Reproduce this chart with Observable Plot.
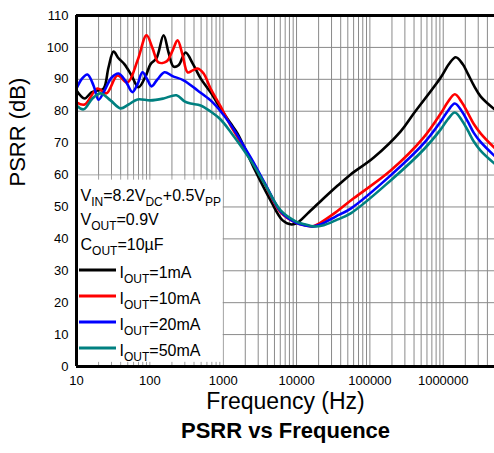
<!DOCTYPE html>
<html><head><meta charset="utf-8">
<script src="https://cdn.jsdelivr.net/npm/d3@7"></script>
<script src="https://cdn.jsdelivr.net/npm/@observablehq/plot@0.6"></script>
<style>
html,body{margin:0;padding:0;background:#fff;}
#chart{width:494px;height:453px;}
</style></head><body><div id="chart"></div>
<script>
// ---------- data ----------
const xTicks = [10, 100, 1000, 10000, 100000, 1000000];
const yTicks = [0, 10, 20, 30, 40, 50, 60, 70, 80, 90, 100, 110];
const seriesNames = ["1mA", "10mA", "20mA", "50mA"];
const seriesLabels = ["I_{OUT}=1mA", "I_{OUT}=10mA", "I_{OUT}=20mA", "I_{OUT}=50mA"];
const conditionLines = ["V_{IN}=8.2V_{DC}+0.5V_{PP}", "V_{OUT}=0.9V", "C_{OUT}=10µF"];
const xLabel = "Frequency (Hz)";
const yLabel = "PSRR (dB)";
const title = "PSRR vs Frequence";

const freq1mA = [10,12.9,16,19.3,23.4,27.3,32,37.4,45.2,56.3,70.1,87.3,102,123,154,180,210,246,307,383,492,673,922,1262,1572,2600,4436,6460,8570,10350,14200,22700,36400,54700,113000,263000,396000,925000,1190000,1480000,1850000,2160000,2610000,3250000,5000000];
const psrr1mA = [86.5,84.0,85.9,86.5,87.1,93.7,98.7,96.6,94.7,91.2,87.5,90.9,94.7,96.6,103.8,98.4,94.0,94.4,98.4,95.0,90.3,85.9,80.9,76.2,73.0,62.4,52.0,45.8,44.5,45.1,48.0,52.4,56.7,60.2,65.5,73.7,79.3,90.6,94.7,96.9,94.7,91.8,88.1,84.6,80.6];

const freq10mA = [10,12.9,19.3,25.6,36.2,49.6,67.9,90.1,109,131,169,204,239,280,327,383,448,541,673,922,1262,2366,3787,6070,9730,13300,16600,21300,34100,60100,192000,542000,925000,1150000,1440000,1790000,2160000,2610000,3250000,5000000];
const psrr10mA = [82.8,82.1,87.1,85.6,91.2,89.0,95.9,103.8,99.7,95.3,95.6,99.0,102.2,97.5,92.2,92.8,93.4,91.8,87.1,81.5,75.5,65.2,56.7,48.3,45.1,44.2,43.9,45.1,48.3,52.7,61.4,71.8,79.3,82.8,85.3,82.8,79.5,76.0,73.0,68.5];

const freq20mA = [10,11.7,14.1,17.1,20.0,24.1,30,37.4,46.6,57.8,67.9,79.3,93,105.5,127,159,204,288,448,673,922,1262,2366,3787,6070,9730,13300,16600,21300,34100,54700,192000,542000,925000,1150000,1440000,1790000,2160000,2610000,3250000,5000000];
const psrr20mA = [87.1,90.0,91.5,88.0,83.6,86.5,90.5,91.8,89.5,86.0,88.5,92.2,89.8,87.8,90.0,92.2,91.0,89.7,86.5,83.4,80.0,75.8,65.5,57.0,48.6,45.1,44.2,43.9,44.5,47.0,49.5,59.9,69.9,76.8,80.0,82.4,80.0,76.8,73.2,70.3,66.0];

const freq50mA = [10,12.5,16.5,21.2,29.1,39.8,51.2,67.9,102,154,231,297,359,492,673,922,1262,2366,3787,6070,9730,13300,17100,22700,34100,54700,192000,542000,925000,1150000,1440000,1790000,2160000,2610000,3250000,5000000];
const psrr50mA = [81.8,80.6,84.0,85.6,83.4,80.9,82.1,83.7,83.4,84.0,85.0,83.1,82.4,81.8,79.9,77.4,73.5,64.6,56.7,48.9,45.5,44.5,43.9,44.2,45.8,48.0,58.3,68.0,74.3,77.4,79.6,77.2,74.0,70.5,67.6,63.6];

// ---------- styling / layout ----------
const seriesColors = ["#000000", "#ff0000", "#0000ff", "#008080"];
const FONT = "'Liberation Sans', Arial, Helvetica, sans-serif";
const W = 494, H = 453, ML = 76, MR = 0, MT = 15, MB = 87;
const conditionBaselines = [200, 224, 249];
const legendBaselines = [277, 303, 329, 355];

const freqs = [freq1mA, freq10mA, freq20mA, freq50mA];
const psrrs = [psrr1mA, psrr10mA, psrr20mA, psrr50mA];
const rows = [];
seriesNames.forEach((s, i) => freqs[i].forEach((f, j) => rows.push({series: s, f, db: psrrs[i][j]})));

// grid positions (log minor grid)
const gridX = [];
for (let e = 1; e <= 6; e++) for (let k = 1; k <= 9; k++) { const v = k * 10 ** e; if (v <= 5e6) gridX.push(v); }
const legendBox = [{x1: 10, x2: 1000, y1: 0, y2: 60}];
const innerTicks = gridX.filter(v => v > 10 && v < 1000);

const textMarks = [];
conditionLines.forEach((t, i) => textMarks.push(Plot.text([t], {
  frameAnchor: "top-left", dx: 4, dy: conditionBaselines[i] - MT, lineAnchor: "bottom",
  textAnchor: "start", fontSize: 16, fill: "#000"
})));
seriesLabels.forEach((t, i) => textMarks.push(Plot.text([t], {
  frameAnchor: "top-left", dx: 43, dy: legendBaselines[i] - MT, lineAnchor: "bottom",
  textAnchor: "start", fontSize: 16, fill: "#000"
})));

const plot = Plot.plot({
  width: W, height: H, marginLeft: ML, marginRight: MR, marginTop: MT, marginBottom: MB,
  style: {fontFamily: FONT, fontSize: "13px", color: "#000", background: "#fff"},
  x: {type: "log", domain: [10, 5e6], ticks: xTicks, tickFormat: d => String(d), tickSize: 0, tickPadding: 9, label: null},
  y: {domain: [0, 110], ticks: yTicks, tickSize: 0, tickPadding: 8, label: null},
  color: {domain: seriesNames, range: seriesColors},
  marks: [
    Plot.ruleX(gridX, {stroke: "#8a8a8a", strokeWidth: 1}),
    Plot.ruleY(yTicks, {stroke: "#8a8a8a", strokeWidth: 1}),
    Plot.rect(legendBox, {x1: "x1", x2: "x2", y1: "y1", y2: "y2", fill: "#fff", insetTop: 1}),
    Plot.ruleX(innerTicks, {y1: 60, y2: 58.4, stroke: "#a0a0a0"}),
    Plot.ruleX(innerTicks, {y1: 0, y2: 1.3, stroke: "#a0a0a0"}),
    Plot.line(rows, {x: "f", y: "db", z: "series", stroke: "series", strokeWidth: 2.6, curve: "catmull-rom"}),
    Plot.ruleX([10], {stroke: "#000", strokeWidth: 3}),
    Plot.ruleY([0, 110], {stroke: "#000", strokeWidth: 3}),
    Plot.text([xLabel], {frameAnchor: "bottom", dy: 42, fontSize: 23, fill: "#000"}),
    Plot.text([title], {frameAnchor: "bottom", dy: 71, fontSize: 22, fontWeight: "bold", fill: "#000"}),
    Plot.text([yLabel], {frameAnchor: "left", dx: -59, dy: -4.5, rotate: -90, fontSize: 22, fill: "#000"}),
    ...textMarks
  ]
});

// subscripts: rebuild "_{...}" segments as tspans
const SVGNS = "http://www.w3.org/2000/svg";
plot.querySelectorAll("text").forEach(t => {
  const s = t.textContent;
  if (!s.includes("_{")) return;
  const parts = [];
  const re = /_\{([^}]*)\}/g; let last = 0, m;
  while ((m = re.exec(s))) {
    if (m.index > last) parts.push({t: s.slice(last, m.index), sub: false});
    parts.push({t: m[1], sub: true});
    last = re.lastIndex;
  }
  if (last < s.length) parts.push({t: s.slice(last), sub: false});
  t.textContent = "";
  let down = false;
  for (const p of parts) {
    const ts = document.createElementNS(SVGNS, "tspan");
    ts.textContent = p.t;
    if (p.sub) { ts.setAttribute("font-size", "12"); if (!down) { ts.setAttribute("dy", "5"); down = true; } }
    else if (down) { ts.setAttribute("dy", "-5"); down = false; }
    t.appendChild(ts);
  }
});

// legend swatches
const sw = d3.select(plot).append("g").attr("aria-label", "legend swatches");
legendBaselines.forEach((b, i) => sw.append("line")
  .attr("x1", ML + 3).attr("x2", ML + 40).attr("y1", b - 7).attr("y2", b - 7)
  .attr("stroke", seriesColors[i]).attr("stroke-width", 3));

document.getElementById("chart").appendChild(plot);
</script></body></html>
